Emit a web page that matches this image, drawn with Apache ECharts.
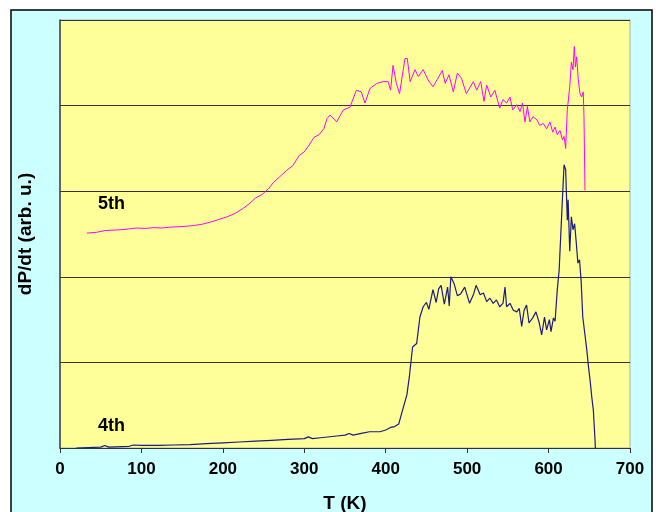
<!DOCTYPE html>
<html>
<head>
<meta charset="utf-8">
<script src="https://cdn.jsdelivr.net/npm/echarts@6/dist/echarts.min.js"></script>
<style>
  html, body { margin: 0; padding: 0; background: #fff; }
  #chart { width: 656px; height: 512px; }
</style>
</head>
<body>
<div id="chart"></div>
<script>
// 5th run (upper, magenta trace): temperature in K, signal in grid units
const t5 = [33, 45, 55, 65, 75, 85, 95, 105, 115, 125, 135, 145, 155, 165, 175, 185, 195, 205, 215, 225,
  232, 240, 248, 256, 262, 270, 278, 286, 294, 300, 306, 312, 318, 324, 328, 331.6, 339.7, 348, 356, 364,
  370, 374.5, 380.7, 389, 397, 403, 406, 409, 413, 417, 419.6, 423.7, 426.5, 430, 436, 440, 446, 452, 458, 463,
  469.5, 473, 477.7, 483, 488, 493, 499, 507.6, 511.7, 516.6, 520.7, 524, 529, 534, 540, 544, 548.5, 552.6, 556, 561,
  565, 568, 571, 574, 577, 581, 586, 589, 593.5, 597.6, 601.7, 605, 608, 610.7, 614, 617, 619, 621, 623, 626,
  628, 630, 631.6, 633, 634.5, 636.5, 638.6, 640.6, 642.6, 643.5, 644.7]
const p5 = [2.51, 2.52, 2.54, 2.545, 2.55, 2.56, 2.57, 2.565, 2.575, 2.57, 2.58, 2.585, 2.59, 2.6, 2.615, 2.64, 2.67, 2.70, 2.74, 2.80,
  2.85, 2.92, 2.96, 3.03, 3.10, 3.17, 3.24, 3.30, 3.42, 3.46, 3.54, 3.63, 3.66, 3.73, 3.85, 3.89, 3.81, 3.95, 3.98, 4.18,
  4.16, 4.03, 4.2, 4.26, 4.28, 4.28, 4.18, 4.47, 4.26, 4.14, 4.3, 4.55, 4.55, 4.28, 4.42, 4.34, 4.42, 4.3, 4.22, 4.3,
  4.41, 4.26, 4.36, 4.16, 4.38, 4.32, 4.14, 4.28, 4.18, 4.28, 4.05, 4.24, 4.1, 4.18, 3.97, 4.07, 4.03, 4.10, 3.95, 4.01,
  3.93, 4.03, 3.81, 3.99, 3.81, 3.87, 3.83, 3.77, 3.79, 3.73, 3.81, 3.69, 3.75, 3.66, 3.71, 3.60, 3.64, 3.50, 3.95, 4.22,
  4.51, 4.42, 4.69, 4.45, 4.57, 4.3, 4.14, 4.1, 4.16, 3.87, 3.01]

// 4th run (lower, navy trace)
const t4 = [20, 50, 55, 60, 85, 90, 100, 120, 140, 160, 180, 200, 220, 240, 260, 280, 300, 305, 310, 320,
  340, 350, 355, 360, 370, 380, 393, 400, 406, 411, 416, 420, 426, 429, 431, 433, 438, 442, 446, 450,
  453, 458, 462, 465, 468, 472, 476, 478, 480, 484, 488, 492, 497, 503, 508, 511, 516, 520, 524, 528,
  532, 536, 540, 544, 546.5, 548.5, 552.6, 556.7, 561, 564, 567, 570, 573, 576, 580.5, 584.5, 588.6, 591.5, 595, 597.6,
  601, 603, 606, 608, 610.7, 613, 616, 619, 621, 623, 624, 626, 628, 630, 632, 634, 636, 638, 640, 642,
  645, 647, 649, 651, 653, 655, 657, 657.5]
const p4 = [0.0, 0.01, 0.03, 0.01, 0.02, 0.035, 0.03, 0.03, 0.035, 0.04, 0.05, 0.06, 0.07, 0.08, 0.09, 0.1, 0.11, 0.13, 0.11, 0.12,
  0.14, 0.15, 0.17, 0.15, 0.17, 0.19, 0.19, 0.21, 0.24, 0.25, 0.28, 0.42, 0.62, 0.83, 0.84, 1.18, 1.22, 1.53, 1.65, 1.70,
  1.62, 1.85, 1.70, 1.86, 1.90, 1.68, 1.88, 1.66, 2.0, 1.92, 1.78, 1.80, 1.88, 1.69, 1.80, 1.90, 1.79, 1.81, 1.71, 1.75,
  1.69, 1.73, 1.65, 1.69, 1.88, 1.65, 1.69, 1.61, 1.59, 1.63, 1.42, 1.61, 1.67, 1.46, 1.52, 1.59, 1.46, 1.32, 1.53, 1.38,
  1.50, 1.36, 1.52, 1.48, 1.85, 2.08, 2.7, 3.31, 3.25, 2.66, 2.9, 2.3, 2.7, 2.55, 2.62, 2.4, 2.16, 2.2, 1.95, 1.53,
  1.3, 1.14, 0.95, 0.79, 0.6, 0.44, 0.1, 0]

const xTicks = [0, 100, 200, 300, 400, 500, 600, 700]
const runLabels = ['5th', '4th']

const pair = (xs, ys) => xs.map((x, i) => [x, ys[i]])
const boldFont = 'Arial, "Liberation Sans", sans-serif'

const chart = echarts.init(document.getElementById('chart'))
const option = {
  animation: false,
  backgroundColor: '#fff',
  graphic: [
    {
      type: 'rect',
      z: -10,
      shape: { x: 11, y: 10, width: 641, height: 520 },
      style: { fill: '#ccffff', stroke: '#000', lineWidth: 1.5 }
    },
    {
      type: 'text', left: 98, top: 195, z: 10,
      style: { text: runLabels[0], font: 'bold 18px ' + boldFont, fill: '#000' }
    },
    {
      type: 'text', left: 98, top: 417, z: 10,
      style: { text: runLabels[1], font: 'bold 18px ' + boldFont, fill: '#000' }
    }
  ],
  grid: {
    left: 60, right: 26, top: 20, bottom: 64,
    outerBoundsMode: 'none',
    show: true,
    backgroundColor: '#ffff99',
    borderColor: '#b0b0a0',
    borderWidth: 1
  },
  xAxis: {
    type: 'value',
    min: 0, max: 700, interval: 100,
    name: 'T (K)',
    nameLocation: 'middle',
    nameGap: 46,
    nameTextStyle: { fontFamily: boldFont, fontWeight: 'bold', fontSize: 19, color: '#000' },
    axisLine: { show: true, lineStyle: { color: '#333', width: 1 } },
    axisTick: { show: true, inside: false, length: 5, lineStyle: { color: '#333' } },
    axisLabel: {
      margin: 13,
      fontFamily: boldFont, fontWeight: 'bold', fontSize: 17, color: '#000',
      formatter: v => xTicks.includes(v) ? String(v) : ''
    },
    splitLine: { show: false }
  },
  yAxis: {
    type: 'value',
    min: 0, max: 5, interval: 1,
    name: 'dP/dt (arb. u.)',
    nameLocation: 'middle',
    nameGap: 25,
    nameTextStyle: { fontFamily: boldFont, fontWeight: 'bold', fontSize: 19, color: '#000' },
    axisLine: { show: true, lineStyle: { color: '#404040', width: 1.5 } },
    axisTick: { show: false },
    axisLabel: { show: false },
    splitLine: { show: true, lineStyle: { color: '#333', width: 1.2 } }
  },
  series: [
    {
      name: runLabels[0],
      type: 'line',
      data: pair(t5, p5),
      showSymbol: false,
      lineStyle: { color: '#ff00ff', width: 1 },
      z: 3
    },
    {
      name: runLabels[1],
      type: 'line',
      data: pair(t4, p4),
      showSymbol: false,
      lineStyle: { color: '#1a1a80', width: 1.2 },
      z: 3
    }
  ]
}
chart.setOption(option)
</script>
</body>
</html>
